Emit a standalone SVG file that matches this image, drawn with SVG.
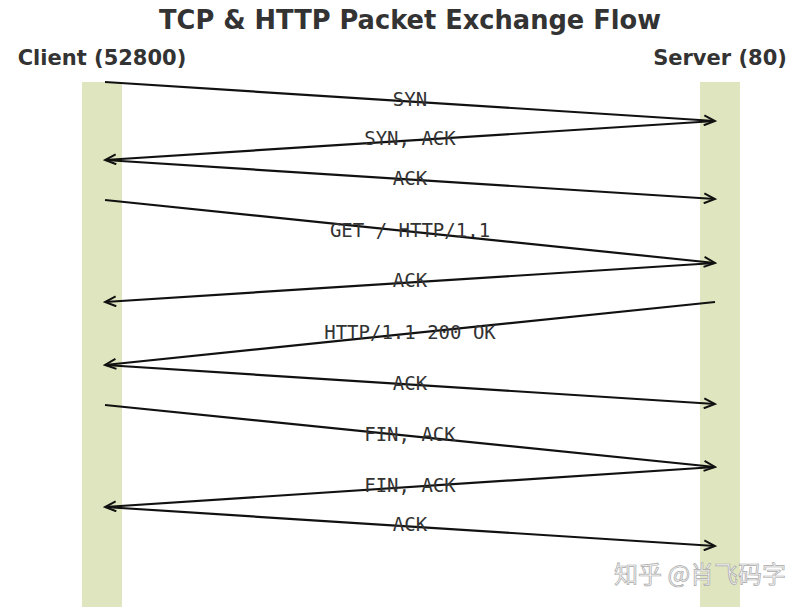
<svg xmlns="http://www.w3.org/2000/svg" width="808" height="607" viewBox="0 0 808 607">
<style>
.t{font-family:"DejaVu Sans",sans-serif;font-weight:bold;fill:#333}
.l{font-family:"DejaVu Sans Mono",monospace;font-size:19px;fill:#333;text-anchor:middle}
.c line{stroke:#111;stroke-width:2.2;marker-end:url(#a)}
.bar{fill:#dfe6bf}
</style>
<defs><marker id="a" markerWidth="14" markerHeight="12" refX="12" refY="6" orient="auto" markerUnits="userSpaceOnUse"><path d="M1,1 L12,6 L1,11" fill="none" stroke="#111" stroke-width="2"/></marker></defs>
<rect width="808" height="607" fill="#fff"/>
<text class="t" x="410" y="29" font-size="25.7" text-anchor="middle">TCP &amp; HTTP Packet Exchange Flow</text>
<g id="client"><rect class="bar" x="82" y="82" width="40" height="525"/><text class="t" x="102" y="65" font-size="21" text-anchor="middle">Client (52800)</text></g>
<g id="server"><rect class="bar" x="700" y="82" width="40" height="525"/><text class="t" x="720" y="65" font-size="21" text-anchor="middle">Server (80)</text></g>
<g class="c" id="connectors">
<line x1="105" y1="82" x2="715" y2="121"/>
<line x1="715" y1="121" x2="105" y2="160"/>
<line x1="105" y1="160" x2="715" y2="199"/>
<line x1="105" y1="200" x2="715" y2="263"/>
<line x1="715" y1="263" x2="105" y2="302"/>
<line x1="715" y1="302" x2="105" y2="365"/>
<line x1="105" y1="365" x2="715" y2="404"/>
<line x1="105" y1="405" x2="715" y2="467"/>
<line x1="715" y1="467" x2="105" y2="507"/>
<line x1="105" y1="507" x2="715" y2="546"/>
</g>
<g id="labels">
<text class="l" x="410" y="106">SYN</text>
<text class="l" x="410" y="145">SYN, ACK</text>
<text class="l" x="410" y="185">ACK</text>
<text class="l" x="410" y="237">GET / HTTP/1.1</text>
<text class="l" x="410" y="287">ACK</text>
<text class="l" x="410" y="339">HTTP/1.1 200 OK</text>
<text class="l" x="410" y="390">ACK</text>
<text class="l" x="410" y="441">FIN, ACK</text>
<text class="l" x="410" y="492">FIN, ACK</text>
<text class="l" x="410" y="531">ACK</text>
</g>
<text x="614" y="583" font-family="'Noto Sans CJK SC',sans-serif" font-size="24" fill="#f4f4f4" stroke="#aaa" stroke-width="0.7">知乎 @肖飞码字</text>
</svg>
